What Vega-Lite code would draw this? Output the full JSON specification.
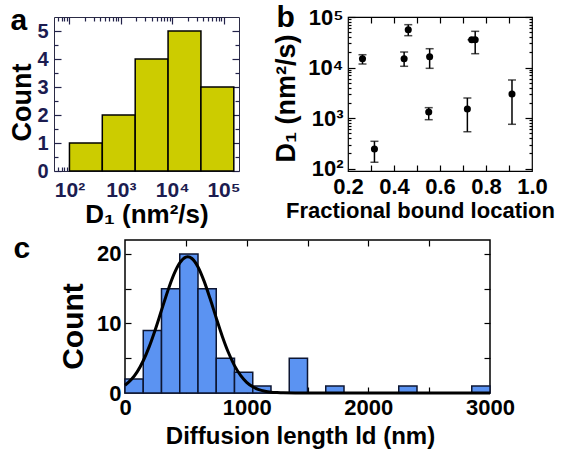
{
  "$schema": "https://vega.github.io/schema/vega-lite/v6.json",
  "background": "white",
  "padding": {"left": 0, "top": 1, "right": 0, "bottom": 0},
  "config": {
    "font": "Liberation Sans",
    "view": {"stroke": "black", "strokeWidth": 1.2},
    "axis": {"grid": false, "domain": false, "labelFlush": false, "labelOverlap": false, "labelFontWeight": "bold", "titleFontWeight": "bold", "labelColor": "black", "titleColor": "black", "tickColor": "black", "tickWidth": 1.2, "labelFontSize": 22, "titleFontSize": 23}
  },
  "datasets": {
    "histA": [
      {"lo": 100, "hi": 436, "count": 1},
      {"lo": 436, "hi": 1905, "count": 2},
      {"lo": 1905, "hi": 8318, "count": 4},
      {"lo": 8318, "hi": 36308, "count": 5},
      {"lo": 36308, "hi": 158489, "count": 3}
    ],
    "ptsB": [
      {"x": 0.263, "y": 14960, "lo": 11750, "hi": 17950},
      {"x": 0.315, "y": 245, "lo": 134, "hi": 348},
      {"x": 0.444, "y": 14960, "lo": 10600, "hi": 20300},
      {"x": 0.462, "y": 56100, "lo": 42700, "hi": 70500},
      {"x": 0.555, "y": 16400, "lo": 9660, "hi": 23600},
      {"x": 0.551, "y": 1320, "lo": 931, "hi": 1610},
      {"x": 0.719, "y": 1510, "lo": 538, "hi": 2500},
      {"x": 0.738, "y": 35600, "lo": 35600, "hi": 35600},
      {"x": 0.753, "y": 35600, "lo": 18800, "hi": 52100},
      {"x": 0.913, "y": 3000, "lo": 755, "hi": 5680}
    ],
    "histC": [
      {"lo": 0, "hi": 150, "count": 2},
      {"lo": 150, "hi": 300, "count": 9},
      {"lo": 300, "hi": 450, "count": 15},
      {"lo": 450, "hi": 600, "count": 20},
      {"lo": 600, "hi": 750, "count": 15},
      {"lo": 750, "hi": 900, "count": 5},
      {"lo": 900, "hi": 1050, "count": 3},
      {"lo": 1050, "hi": 1200, "count": 1},
      {"lo": 1350, "hi": 1500, "count": 5},
      {"lo": 1650, "hi": 1800, "count": 1},
      {"lo": 2250, "hi": 2400, "count": 1},
      {"lo": 2850, "hi": 3000, "count": 1}
    ],
    "curveC": [
      {"x": 0, "y": 1.11}, {"x": 50, "y": 1.89}, {"x": 100, "y": 3.04}, {"x": 150, "y": 4.64},
      {"x": 200, "y": 6.70}, {"x": 250, "y": 9.17}, {"x": 300, "y": 11.89}, {"x": 350, "y": 14.60},
      {"x": 400, "y": 16.99}, {"x": 450, "y": 18.72}, {"x": 500, "y": 19.55}, {"x": 515, "y": 19.6},
      {"x": 550, "y": 19.34}, {"x": 600, "y": 18.13}, {"x": 650, "y": 16.09}, {"x": 700, "y": 13.54},
      {"x": 750, "y": 10.79}, {"x": 800, "y": 8.14}, {"x": 850, "y": 5.82}, {"x": 900, "y": 3.94},
      {"x": 950, "y": 2.53}, {"x": 1000, "y": 1.54}, {"x": 1050, "y": 0.89}, {"x": 1100, "y": 0.48},
      {"x": 1150, "y": 0.25}, {"x": 1200, "y": 0.12}, {"x": 1250, "y": 0.06}, {"x": 1300, "y": 0.02},
      {"x": 1400, "y": 0}, {"x": 1500, "y": 0}, {"x": 2000, "y": 0}, {"x": 2500, "y": 0}, {"x": 3000, "y": 0}
    ]
  },
  "spacing": 4,
  "vconcat": [
    {
      "bounds": "flush",
      "spacing": 0,
      "hconcat": [
        {"width": 54, "height": 154, "view": {"stroke": null}, "data": {"values": []}, "mark": "point"},
        {
          "width": 185,
          "height": 154,
          "view": {"stroke": "#2b2b45", "strokeWidth": 1},
          "data": {"name": "histA"},
          "layer": [
            {
              "mark": {"type": "rect", "fill": "#cccc00", "stroke": "black", "strokeWidth": 1.5},
              "encoding": {
                "x": {"field": "lo", "type": "quantitative", "scale": {"type": "log", "domain": [50, 200000], "nice": false},
                  "axis": {"orient": "bottom", "values": [100, 1000, 10000, 100000], "ticks": false, "labelExpr": "datum.value == 100 ? '10²' : datum.value == 1000 ? '10³' : datum.value == 10000 ? '10⁴' : '10⁵'", "labelColor": "#1c1c50", "labelFontSize": 21, "labelPadding": 8, "title": "D₁ (nm²/s)", "titleFontSize": 26, "titlePadding": 1}},
                "x2": {"field": "hi"},
                "y": {"field": "count", "type": "quantitative", "scale": {"domain": [0, 5.5], "nice": false},
                  "axis": {"orient": "left", "values": [0, 1, 2, 3, 4, 5], "ticks": false, "labelColor": "#1c1c50", "labelFontSize": 20, "labelPadding": 6, "title": "Count", "titleFontSize": 27, "titlePadding": 0, "titleY": 85}},
                "y2": {"datum": 0}
              }
            },
            {
              "mark": {"type": "rect", "opacity": 0},
              "encoding": {
                "x": {"field": "lo", "type": "quantitative", "scale": {"type": "log", "domain": [50, 200000], "nice": false},
                  "axis": {"orient": "bottom", "values": [100, 1000, 10000, 100000], "labels": false, "title": null, "tickSize": -7, "tickColor": "#22224a"}},
                "x2": {"field": "hi"},
                "y": {"field": "count", "type": "quantitative", "scale": {"domain": [0, 5.5], "nice": false},
                  "axis": {"orient": "left", "values": [0, 1, 2, 3, 4, 5], "labels": false, "title": null, "tickSize": -7, "tickColor": "#22224a"}},
                "y2": {"datum": 0}
              }
            },
            {
              "mark": {"type": "rect", "opacity": 0},
              "encoding": {
                "x": {"field": "lo", "type": "quantitative", "scale": {"type": "log", "domain": [50, 200000], "nice": false},
                  "axis": {"orient": "bottom", "values": [60, 70, 80, 90, 200, 300, 400, 500, 600, 700, 800, 900, 2000, 3000, 4000, 5000, 6000, 7000, 8000, 9000, 20000, 30000, 40000, 50000, 60000, 70000, 80000, 90000], "labels": false, "title": null, "tickSize": -4, "tickColor": "#22224a"}},
                "x2": {"field": "hi"},
                "y": {"field": "count", "type": "quantitative", "scale": {"domain": [0, 5.5], "nice": false},
                  "axis": {"orient": "left", "values": [0.5, 1.5, 2.5, 3.5, 4.5], "labels": false, "title": null, "tickSize": -4, "tickColor": "#22224a"}},
                "y2": {"datum": 0}
              }
            },
            {
              "mark": {"type": "rect", "opacity": 0},
              "encoding": {
                "x": {"field": "lo", "type": "quantitative", "scale": {"type": "log", "domain": [50, 200000], "nice": false},
                  "axis": {"orient": "top", "values": [100, 1000, 10000, 100000], "labels": false, "tickSize": -7, "tickColor": "#22224a",
                    "title": "a", "titleX": -44, "titleY": 12, "titleAngle": 0, "titleAlign": "left", "titleBaseline": "alphabetic", "titleFontSize": 30}},
                "x2": {"field": "hi"},
                "y": {"field": "count", "type": "quantitative", "scale": {"domain": [0, 5.5], "nice": false},
                  "axis": {"orient": "right", "values": [0, 1, 2, 3, 4, 5], "labels": false, "title": null, "tickSize": -7, "tickColor": "#22224a"}},
                "y2": {"datum": 0}
              }
            },
            {
              "mark": {"type": "rect", "opacity": 0},
              "encoding": {
                "x": {"field": "lo", "type": "quantitative", "scale": {"type": "log", "domain": [50, 200000], "nice": false},
                  "axis": {"orient": "top", "values": [60, 70, 80, 90, 200, 300, 400, 500, 600, 700, 800, 900, 2000, 3000, 4000, 5000, 6000, 7000, 8000, 9000, 20000, 30000, 40000, 50000, 60000, 70000, 80000, 90000], "labels": false, "title": null, "tickSize": -4, "tickColor": "#22224a"}},
                "x2": {"field": "hi"},
                "y": {"field": "count", "type": "quantitative", "scale": {"domain": [0, 5.5], "nice": false},
                  "axis": {"orient": "right", "values": [0.5, 1.5, 2.5, 3.5, 4.5], "labels": false, "title": null, "tickSize": -4, "tickColor": "#22224a"}},
                "y2": {"datum": 0}
              }
            }
          ],
          "resolve": {"axis": {"x": "independent", "y": "independent"}}
        },
        {"width": 109, "height": 154, "view": {"stroke": null}, "data": {"values": []}, "mark": "point"},
        {
          "width": 184,
          "height": 154,
          "view": {"stroke": "black", "strokeWidth": 1.2},
          "data": {"name": "ptsB"},
          "layer": [
            {
              "mark": {"type": "rule", "strokeWidth": 1.5, "color": "black"},
              "encoding": {
                "x": {"field": "x", "type": "quantitative", "scale": {"domain": [0.2, 1.0], "nice": false, "zero": false},
                  "axis": {"orient": "bottom", "values": [0.2, 0.4, 0.6, 0.8, 1.0], "ticks": false, "format": ".1f", "labelPadding": 5, "title": "Fractional bound location", "titleFontSize": 22, "titlePadding": 3, "titleX": 72}},
                "y": {"field": "lo", "type": "quantitative", "scale": {"type": "log", "domain": [90, 100000], "nice": false},
                  "axis": {"orient": "left", "values": [100, 1000, 10000, 100000], "ticks": false, "labelExpr": "datum.value == 100 ? '10²' : datum.value == 1000 ? '10³' : datum.value == 10000 ? '10⁴' : '10⁵'", "labelPadding": 5, "title": "D₁ (nm²/s)", "titleFontSize": 27, "titlePadding": 7, "titleY": 81}},
                "y2": {"field": "hi"}
              }
            },
            {
              "mark": {"type": "tick", "orient": "horizontal", "size": 8, "thickness": 1.5, "color": "black"},
              "encoding": {
                "x": {"field": "x", "type": "quantitative", "scale": {"domain": [0.2, 1.0], "nice": false, "zero": false}, "axis": null},
                "y": {"field": "lo", "type": "quantitative", "scale": {"type": "log", "domain": [90, 100000], "nice": false}, "axis": null}
              }
            },
            {
              "mark": {"type": "tick", "orient": "horizontal", "size": 8, "thickness": 1.5, "color": "black"},
              "encoding": {
                "x": {"field": "x", "type": "quantitative", "scale": {"domain": [0.2, 1.0], "nice": false, "zero": false}, "axis": null},
                "y": {"field": "hi", "type": "quantitative", "scale": {"type": "log", "domain": [90, 100000], "nice": false}, "axis": null}
              }
            },
            {
              "mark": {"type": "point", "filled": true, "size": 50, "color": "black", "opacity": 1},
              "encoding": {
                "x": {"field": "x", "type": "quantitative", "scale": {"domain": [0.2, 1.0], "nice": false, "zero": false}, "axis": null},
                "y": {"field": "y", "type": "quantitative", "scale": {"type": "log", "domain": [90, 100000], "nice": false}, "axis": null}
              }
            },
            {
              "mark": {"type": "point", "opacity": 0},
              "encoding": {
                "x": {"field": "x", "type": "quantitative", "scale": {"domain": [0.2, 1.0], "nice": false, "zero": false},
                  "axis": {"orient": "bottom", "values": [0.3, 0.4, 0.5, 0.6, 0.7, 0.8, 0.9], "labels": false, "title": null, "tickSize": -6}},
                "y": {"field": "y", "type": "quantitative", "scale": {"type": "log", "domain": [90, 100000], "nice": false},
                  "axis": {"orient": "left", "values": [100, 1000, 10000, 100000], "labels": false, "title": null, "tickSize": -7}}
              }
            },
            {
              "mark": {"type": "point", "opacity": 0},
              "encoding": {
                "x": {"field": "x", "type": "quantitative", "scale": {"domain": [0.2, 1.0], "nice": false, "zero": false},
                  "axis": {"orient": "top", "values": [0.3, 0.4, 0.5, 0.6, 0.7, 0.8, 0.9], "labels": false, "tickSize": -6,
                    "title": "b", "titleX": -72, "titleY": 9, "titleAngle": 0, "titleAlign": "left", "titleBaseline": "alphabetic", "titleFontSize": 30}},
                "y": {"field": "y", "type": "quantitative", "scale": {"type": "log", "domain": [90, 100000], "nice": false},
                  "axis": {"orient": "right", "values": [100, 1000, 10000, 100000], "labels": false, "title": null, "tickSize": -7}}
              }
            },
            {
              "mark": {"type": "point", "opacity": 0},
              "encoding": {
                "x": {"field": "x", "type": "quantitative", "scale": {"domain": [0.2, 1.0], "nice": false, "zero": false}, "axis": null},
                "y": {"field": "y", "type": "quantitative", "scale": {"type": "log", "domain": [90, 100000], "nice": false},
                  "axis": {"orient": "left", "values": [200, 300, 400, 500, 600, 700, 800, 900, 2000, 3000, 4000, 5000, 6000, 7000, 8000, 9000, 20000, 30000, 40000, 50000, 60000, 70000, 80000, 90000], "labels": false, "title": null, "tickSize": -3}}
              }
            },
            {
              "mark": {"type": "point", "opacity": 0},
              "encoding": {
                "x": {"field": "x", "type": "quantitative", "scale": {"domain": [0.2, 1.0], "nice": false, "zero": false}, "axis": null},
                "y": {"field": "y", "type": "quantitative", "scale": {"type": "log", "domain": [90, 100000], "nice": false},
                  "axis": {"orient": "right", "values": [200, 300, 400, 500, 600, 700, 800, 900, 2000, 3000, 4000, 5000, 6000, 7000, 8000, 9000, 20000, 30000, 40000, 50000, 60000, 70000, 80000, 90000], "labels": false, "title": null, "tickSize": -3}}
              }
            }
          ],
          "resolve": {"axis": {"x": "independent", "y": "independent"}}
        }
      ]
    },
    {
      "bounds": "flush",
      "spacing": 0,
      "hconcat": [
        {"width": 125, "height": 153, "view": {"stroke": null}, "data": {"values": []}, "mark": "point"},
        {
          "width": 365,
          "height": 153,
          "view": {"stroke": "black", "strokeWidth": 1.5},
          "layer": [
            {
              "data": {"name": "histC"},
              "mark": {"type": "rect", "fill": "#5b93f2", "stroke": "#0d1633", "strokeWidth": 1.5},
              "encoding": {
                "x": {"field": "lo", "type": "quantitative", "scale": {"domain": [0, 3000], "nice": false},
                  "axis": {"orient": "bottom", "values": [0, 1000, 2000, 3000], "ticks": false, "format": "d", "labelPadding": 4, "title": "Diffusion length ld (nm)", "titleFontSize": 24, "titlePadding": 6, "titleX": 175}},
                "x2": {"field": "hi"},
                "y": {"field": "count", "type": "quantitative", "scale": {"domain": [0, 22], "nice": false},
                  "axis": {"orient": "left", "values": [0, 10, 20], "ticks": false, "labelPadding": 4, "title": "Count", "titleFontSize": 30, "titlePadding": 8, "titleY": 86}},
                "y2": {"datum": 0}
              }
            },
            {
              "data": {"name": "curveC"},
              "mark": {"type": "line", "color": "black", "strokeWidth": 3, "interpolate": "monotone"},
              "encoding": {
                "x": {"field": "x", "type": "quantitative", "scale": {"domain": [0, 3000], "nice": false}, "axis": null},
                "y": {"field": "y", "type": "quantitative", "scale": {"domain": [0, 22], "nice": false}, "axis": null}
              }
            },
            {
              "data": {"name": "histC"},
              "mark": {"type": "rect", "opacity": 0},
              "encoding": {
                "x": {"field": "lo", "type": "quantitative", "scale": {"domain": [0, 3000], "nice": false},
                  "axis": {"orient": "bottom", "values": [500, 1000, 1500, 2000, 2500], "labels": false, "title": null, "tickSize": -6}},
                "x2": {"field": "hi"},
                "y": {"field": "count", "type": "quantitative", "scale": {"domain": [0, 22], "nice": false},
                  "axis": {"orient": "left", "values": [5, 10, 15, 20], "labels": false, "title": null, "tickSize": -6}},
                "y2": {"datum": 0}
              }
            },
            {
              "data": {"name": "histC"},
              "mark": {"type": "rect", "opacity": 0},
              "encoding": {
                "x": {"field": "lo", "type": "quantitative", "scale": {"domain": [0, 3000], "nice": false},
                  "axis": {"orient": "top", "values": [500, 1000, 1500, 2000, 2500], "labels": false, "tickSize": -6,
                    "title": "c", "titleX": -112, "titleY": 17, "titleAngle": 0, "titleAlign": "left", "titleBaseline": "alphabetic", "titleFontSize": 30}},
                "x2": {"field": "hi"},
                "y": {"field": "count", "type": "quantitative", "scale": {"domain": [0, 22], "nice": false},
                  "axis": {"orient": "right", "values": [5, 10, 15, 20], "labels": false, "title": null, "tickSize": -6}},
                "y2": {"datum": 0}
              }
            }
          ],
          "resolve": {"axis": {"x": "independent", "y": "independent"}}
        }
      ]
    }
  ]
}
